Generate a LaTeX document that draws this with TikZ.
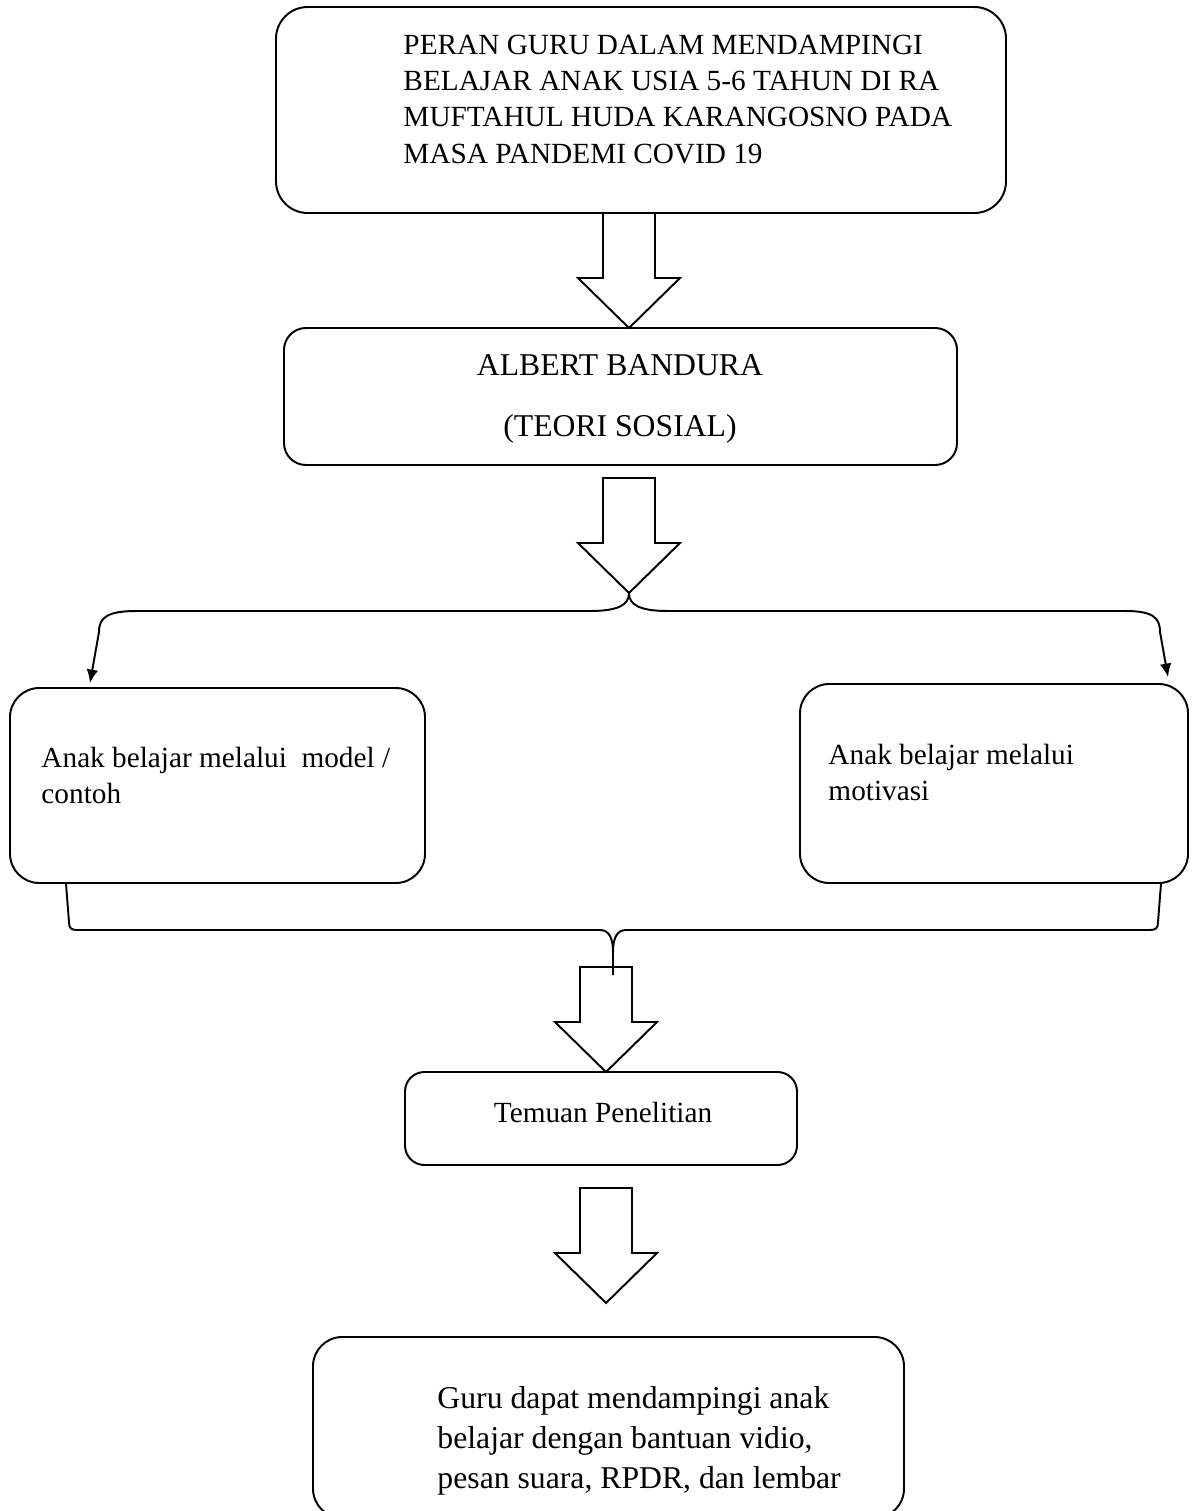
\documentclass[tikz,border=0pt]{standalone}
\usepackage{fontspec}
\setmainfont{Liberation Serif}
\usetikzlibrary{arrows.meta, calc}

\newcommand{\px}{0.41pt}
\tikzset{
  box/.style={draw, line width=0.8pt, inner sep=0pt},
  txtA/.style={inner sep=0pt, align=left, anchor=base west, font=\fontsize{12pt}{14.6pt}\selectfont},
  txtB/.style={inner sep=0pt, align=left, anchor=base west, font=\fontsize{13pt}{16.4pt}\selectfont},
  blockarr/.style={draw, line width=0.8pt, fill=white},
  link/.style={line width=0.8pt, -{Latex[length=5.5pt,width=4.8pt]}},
  brace/.style={line width=0.8pt},
}
% hollow block arrow: #1 top of the shaft, #2 tip
\newcommand{\blockarrow}[2]{%
  \draw[blockarr] ($(#1)+(-26,0)$) -- ($(#2)+(-26,-50)$) -- ($(#2)+(-51,-50)$)
    -- (#2) -- ($(#2)+(51,-50)$) -- ($(#2)+(26,-50)$) -- ($(#1)+(26,0)$) -- cycle;}

\begin{document}
\begin{tikzpicture}[x=\px, y=-\px]
\useasboundingbox (0,0) rectangle (1191,1511);

% boxes
\node[box, rounded corners=13pt, minimum width=730*\px, minimum height=206*\px] (judul) at (641,110) {};
\node[box, rounded corners=9pt, minimum width=673*\px, minimum height=137*\px] (teori) at (620.5,396.5) {};
\node[box, rounded corners=12pt, minimum width=415*\px, minimum height=195*\px] (kiri) at (217.5,785.5) {};
\node[box, rounded corners=12pt, minimum width=388*\px, minimum height=199*\px] (kanan) at (994,783.5) {};
\node[box, rounded corners=8pt, minimum width=392*\px, minimum height=93*\px] (temuan) at (601,1118.5) {};
\node[box, rounded corners=12pt, minimum width=591*\px, minimum height=181*\px] (hasil) at (608.5,1427.5) {};

% texts (base = baseline of the last line)
\node[txtA, font=\fontsize{12pt}{14.8pt}\selectfont] (tjudul) at (403,163)
  {PERAN GURU DALAM MENDAMPINGI\\BELAJAR ANAK USIA 5-6 TAHUN DI RA\\MUFTAHUL HUDA KARANGOSNO PADA\\MASA PANDEMI COVID 19};
\node[inner sep=0pt, align=center, anchor=base, font=\fontsize{13pt}{25pt}\selectfont] (tteori) at (620,436)
  {ALBERT BANDURA\\(TEORI SOSIAL)};
\node[txtA] (tkiri) at (41,803) {Anak belajar melalui\ \ model /\\contoh};
\node[txtA] (tkanan) at (828,800) {Anak belajar melalui\\motivasi};
\node[inner sep=0pt, anchor=base, font=\fontsize{12pt}{14.6pt}\selectfont] (ttemuan) at (603,1122) {Temuan Penelitian};
\node[txtB] (thasil) at (437,1488)
  {Guru dapat mendampingi anak\\belajar dengan bantuan vidio,\\pesan suara, RPDR, dan lembar};

% block arrows
\coordinate (p1) at (629,213);  \coordinate (q1) at (629,328);
\coordinate (p2) at (629,478);  \coordinate (split) at (629,593);
\coordinate (p3) at (606,967);  \coordinate (q3) at (606,1072);
\coordinate (p4) at (606,1188); \coordinate (q4) at (606,1303);
\blockarrow{p1}{q1}
\blockarrow{p2}{split}
\blockarrow{p3}{q3}
\blockarrow{p4}{q4}

% split to both sides
\coordinate (kiriin) at (90,683);
\coordinate (kananin) at (1168,677);
\draw[link] (split) .. controls (629,605) and (618,611) .. (590,611) -- (137,611)
  .. controls (108,611) and (99,617) .. (99,632) -- (kiriin);
\draw[link] (split) .. controls (629,605) and (640,611) .. (668,611) -- (1125,611)
  .. controls (1152,611) and (1160,617) .. (1160,632) -- (kananin);

% join back
\coordinate (gabung) at (613,975);
\draw[brace] ($(kiri.south west)+(57,0)$) -- (69,922) .. controls (69,928) and (71,930) .. (77,930) -- (600,930)
  .. controls (609,930) and (613,938) .. (613,952) -- (gabung);
\draw[brace] ($(kanan.south east)+(-28,0)$) -- (1158,922) .. controls (1158,928) and (1156,930) .. (1150,930) -- (626,930)
  .. controls (617,930) and (613,938) .. (613,952);

\end{tikzpicture}
\end{document}
